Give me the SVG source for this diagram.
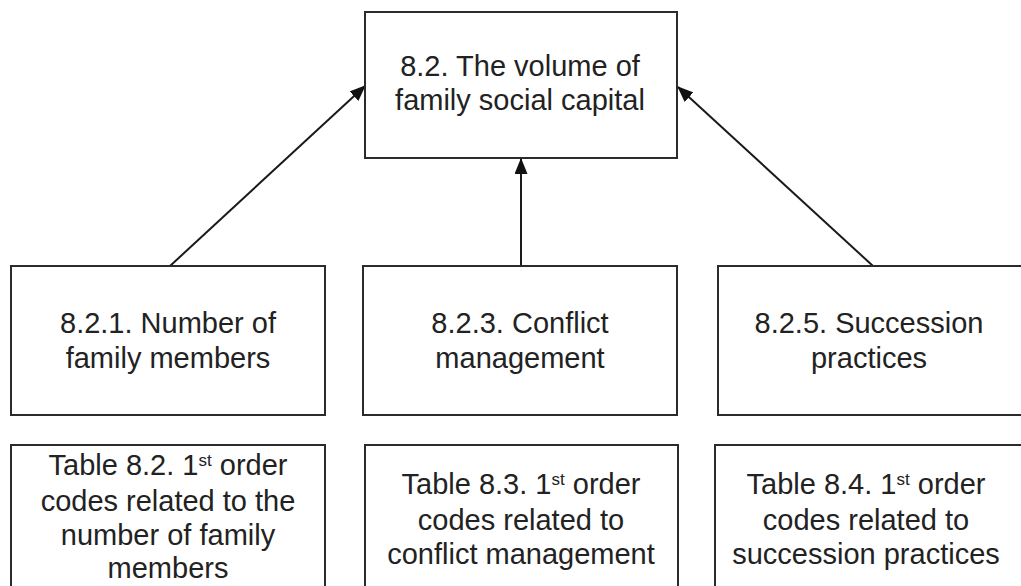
<svg xmlns="http://www.w3.org/2000/svg" width="1021" height="586" viewBox="0 0 1021 586">
  <style>
    .box { fill: #ffffff; stroke: #2b2b2b; stroke-width: 2; }
    .lbl { font-family: "Liberation Sans", Arial, sans-serif; font-size: 29px; fill: #222222; text-anchor: middle; }
    .sup { font-size: 17px; }
    .edge { stroke: #1a1a1a; stroke-width: 2; fill: none; marker-end: url(#head); }
  </style>
  <defs>
    <!-- filled triangular arrowhead, tip at the end of the line -->
    <marker id="head" viewBox="0 0 16 13" refX="15" refY="6.5" markerWidth="16" markerHeight="13" markerUnits="userSpaceOnUse" orient="auto">
      <path d="M0,0 L16,6.5 L0,13 Z" fill="#111111"/>
    </marker>
  </defs>
  <rect width="1021" height="586" fill="#ffffff"/>

  <g id="connectors">
    <line class="edge" x1="170" y1="266" x2="365" y2="86"/>
    <line class="edge" x1="521" y1="266" x2="521" y2="159"/>
    <line class="edge" x1="873" y1="266" x2="678" y2="87"/>
  </g>

  <g id="n-volume">
    <rect class="box" x="365" y="12" width="312" height="146"/>
    <text class="lbl" x="520" y="76">8.2. The volume of</text>
    <text class="lbl" x="520" y="110">family social capital</text>
  </g>

  <g id="n-members">
    <rect class="box" x="11" y="266" width="314" height="149"/>
    <text class="lbl" x="168" y="333">8.2.1. Number of</text>
    <text class="lbl" x="168" y="368">family members</text>
  </g>

  <g id="n-conflict">
    <rect class="box" x="363" y="266" width="314" height="149"/>
    <text class="lbl" x="520" y="333">8.2.3. Conflict</text>
    <text class="lbl" x="520" y="368">management</text>
  </g>

  <g id="n-succession">
    <rect class="box" x="718" y="266" width="320" height="149"/>
    <text class="lbl" x="869" y="333">8.2.5. Succession</text>
    <text class="lbl" x="869" y="368">practices</text>
  </g>

  <g id="t-members">
    <rect class="box" x="11" y="445" width="314" height="160"/>
    <text class="lbl" x="168" y="475">Table 8.2. 1<tspan class="sup" dy="-9">st</tspan><tspan dy="9"> order</tspan></text>
    <text class="lbl" x="168" y="511">codes related to the</text>
    <text class="lbl" x="168" y="545">number of family</text>
    <text class="lbl" x="168" y="578">members</text>
  </g>

  <g id="t-conflict">
    <rect class="box" x="365" y="445" width="313" height="160"/>
    <text class="lbl" x="521" y="494">Table 8.3. 1<tspan class="sup" dy="-9">st</tspan><tspan dy="9"> order</tspan></text>
    <text class="lbl" x="521" y="530">codes related to</text>
    <text class="lbl" x="521" y="564">conflict management</text>
  </g>

  <g id="t-succession">
    <rect class="box" x="715" y="445" width="323" height="160"/>
    <text class="lbl" x="866" y="494">Table 8.4. 1<tspan class="sup" dy="-9">st</tspan><tspan dy="9"> order</tspan></text>
    <text class="lbl" x="866" y="530">codes related to</text>
    <text class="lbl" x="866" y="564">succession practices</text>
  </g>
</svg>
